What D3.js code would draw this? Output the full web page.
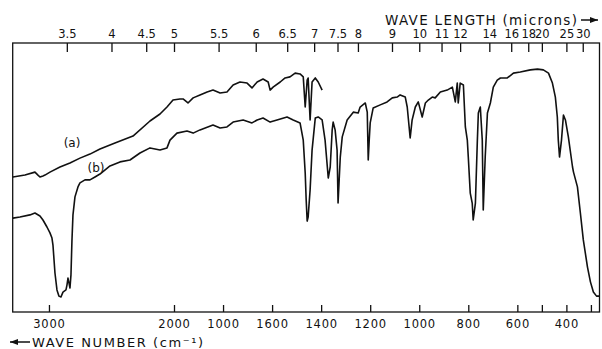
<!DOCTYPE html>
<html>
<head>
<meta charset="utf-8">
<script src="https://cdn.jsdelivr.net/npm/d3@7"></script>
<style>
html,body{margin:0;padding:0;background:#fff;}
svg{display:block;}
text{font-family:"DejaVu Sans",sans-serif;fill:#111;}
</style>
</head>
<body>
<svg id="chart" width="602" height="349"></svg>
<script>
// Bottom axis: wave number (cm-1)
const wnTicks  = [3000, 2000, 1800, 1600, 1400, 1200, 1000, 800, 600, 500, 400, 300];
const wnLabels = ["3000","2000","1000","1600","1400","1200","1000","800","600","","400",""];
// Top axis: wave length (microns)
const umTicks  = [3.5, 4, 4.5, 5, 5.5, 6, 6.5, 7, 7.5, 8, 9, 10, 11, 12, 14, 16, 18, 20, 25, 30];
const umLabels = ["3.5","4","4.5","5","5.5","6","6.5","7","7.5","8","9","10","11","12","14","16","18","20","25","30"];

// Curve (a): wave number and transmittance (%)
const aWn = [3288,3192,3112,3088,3072,3048,3032,2992,2912,2832,2752,2672,2592,2472,2328,2192,2112,2056,2008,
             1976,1963,1943,1922,1894,1865,1841,1812,1784,1759,1731,1702,1682,1661,1637,1616,1608,1596,1567,1547,1527,1506,1486,1473,1465,1457,1453,1445,1437,1424,1412,1396];
const aT  = [50.2,50.9,52.0,50.9,50.2,50.6,50.9,52.0,53.9,55.4,57.2,58.7,60.6,62.8,65.4,71.0,73.6,76.2,78.8,
             79.2,79.2,77.7,79.6,80.7,81.8,82.5,81.4,81.8,84.4,85.5,85.1,83.3,85.5,86.6,85.5,82.5,83.6,85.5,87.0,87.4,88.8,88.5,87.4,76.2,86.2,87.0,71.4,85.5,87.0,85.5,82.5];

// Curve (b): wave number and transmittance (%)
const bWn = [3288,3232,3152,3112,3072,3048,3016,2992,2976,2968,2952,2936,2920,2904,2888,2864,2856,2848,2840,2832,2824,2816,2808,2792,2768,2752,2712,2672,2632,2592,2512,2432,2352,2272,2192,2112,2056,2032,
             1988,1947,1922,1894,1841,1812,1784,1759,1718,1682,1661,1637,1608,1580,1539,1514,1486,1473,1465,1461,1457,1453,1445,1437,1424,1412,1396,1384,1371,1363,1355,1351,1343,1335,1331,1322,1314,1294,1269,1249,1241,1220,1212,1208,1204,1200,1188,1159,1131,1110,1090,1078,
             1057,1049,1037,1029,1016,1004,988,975,963,947,935,914,886,865,853,845,841,833,820,812,804,800,792,784,780,771,763,759,751,743,739,731,722,710,698,682,669,
             641,616,588,547,518,494,473,457,445,437,433,428,420,412,404,392,375,371,355,343,331,314,302,290,277,265];
const bT  = [34.9,35.3,36.1,36.8,35.7,34.2,31.6,29.4,27.5,24.9,14.5,8.2,5.9,5.6,7.4,8.2,10.0,12.6,10.8,8.9,13.8,26.8,36.1,42.8,46.5,48.0,49.1,49.1,50.2,51.3,54.3,55.8,56.5,59.1,61.0,60.2,61.0,63.9,
             66.5,67.3,66.5,67.7,69.5,68.4,68.8,70.6,71.4,70.3,71.4,72.1,70.6,71.4,72.5,71.4,70.3,63.9,51.7,41.6,33.8,35.3,45.4,60.2,72.1,72.5,71.4,63.9,49.8,53.9,67.7,70.6,67.7,60.2,40.5,57.6,65.1,71.4,74.3,74.0,76.2,77.7,74.3,56.5,63.9,70.3,75.8,77.0,78.1,79.6,79.9,80.7,
             79.9,76.2,64.7,71.4,76.2,78.1,72.5,77.7,78.8,79.9,79.6,81.8,82.5,83.6,78.1,85.1,77.7,85.1,84.4,68.8,63.9,57.6,44.2,40.5,34.2,40.5,63.9,74.0,76.2,63.9,37.9,57.6,74.0,77.7,83.6,86.2,87.0,
             87.0,88.8,89.2,90.0,90.3,90.0,88.8,85.1,79.9,72.5,63.9,57.6,63.9,73.2,71.4,65.1,53.9,52.0,46.5,36.8,26.8,16.7,11.2,7.4,5.9,5.9];

const svg = d3.select("#chart");
const L = 12.7, R = 599.5, T = 43, B = 312;

const x = d3.scaleLinear().domain([3290, 2000, 265]).range([L, 174, R]);
const y = d3.scaleLinear().domain([0, 100]).range([B, T]);

// Frame
svg.append("rect").attr("x", L).attr("y", T).attr("width", R - L).attr("height", B - T)
  .attr("fill", "none").attr("stroke", "#111").attr("stroke-width", 1.3);

// Top axis (wavelength)
const topAxis = d3.axisTop(x)
  .tickValues(umTicks.map(u => 1e4 / u))
  .tickFormat((d, i) => umLabels[i])
  .tickSizeInner(-9).tickSizeOuter(0).tickPadding(5);
const gt = svg.append("g").attr("transform", `translate(0,${T})`).call(topAxis);
gt.select(".domain").remove();
gt.selectAll(".tick line").attr("stroke", "#111").attr("stroke-width", 1.3);
gt.selectAll(".tick text").attr("font-size", 11.5).attr("font-family", "DejaVu Sans, sans-serif").attr("fill", "#111");

// Bottom axis (wave number)
const botAxis = d3.axisBottom(x)
  .tickValues(wnTicks)
  .tickFormat((d, i) => wnLabels[i])
  .tickSizeInner(-7).tickSizeOuter(0).tickPadding(8);
const gb = svg.append("g").attr("transform", `translate(0,${B})`).call(botAxis);
gb.select(".domain").remove();
gb.selectAll(".tick line").attr("stroke", "#111").attr("stroke-width", 1.3);
gb.selectAll(".tick text").attr("font-size", 11.5).attr("font-family", "DejaVu Sans, sans-serif").attr("fill", "#111")
  .attr("letter-spacing", 0.8);

// Curves
const line = d3.line().x(d => x(d[0])).y(d => y(d[1]));
const aData = aWn.map((w, i) => [w, aT[i]]);
const bData = bWn.map((w, i) => [w, bT[i]]);
svg.append("path").datum(aData).attr("d", line).attr("fill", "none")
  .attr("stroke", "#111").attr("stroke-width", 1.6).attr("stroke-linejoin", "round");
svg.append("path").datum(bData).attr("d", line).attr("fill", "none")
  .attr("stroke", "#111").attr("stroke-width", 1.6).attr("stroke-linejoin", "round");

// Curve labels
svg.append("text").attr("x", 72).attr("y", 147).attr("text-anchor", "middle").attr("font-size", 12).text("(a)");
svg.append("text").attr("x", 96).attr("y", 172).attr("text-anchor", "middle").attr("font-size", 12).text("(b)");

// Titles
svg.append("text").attr("x", 385).attr("y", 25).attr("font-size", 13.5)
  .attr("textLength", 192).attr("lengthAdjust", "spacing").text("WAVE LENGTH (microns)");
svg.append("text").attr("x", 32).attr("y", 347).attr("font-size", 13)
  .attr("textLength", 171).attr("lengthAdjust", "spacing").text("WAVE NUMBER (cm⁻¹)");

// Arrows
const arrow = (x1, x2, yy, dir) => {
  svg.append("line").attr("x1", x1).attr("x2", x2).attr("y1", yy).attr("y2", yy)
    .attr("stroke", "#111").attr("stroke-width", 1.5);
  const tip = dir > 0 ? x2 : x1;
  svg.append("path")
    .attr("d", `M${tip},${yy} L${tip - dir * 8},${yy - 3} L${tip - dir * 8},${yy + 3} Z`)
    .attr("fill", "#111");
};
arrow(581, 598, 20, 1);
arrow(10, 30, 342, -1);
</script>
</body>
</html>
